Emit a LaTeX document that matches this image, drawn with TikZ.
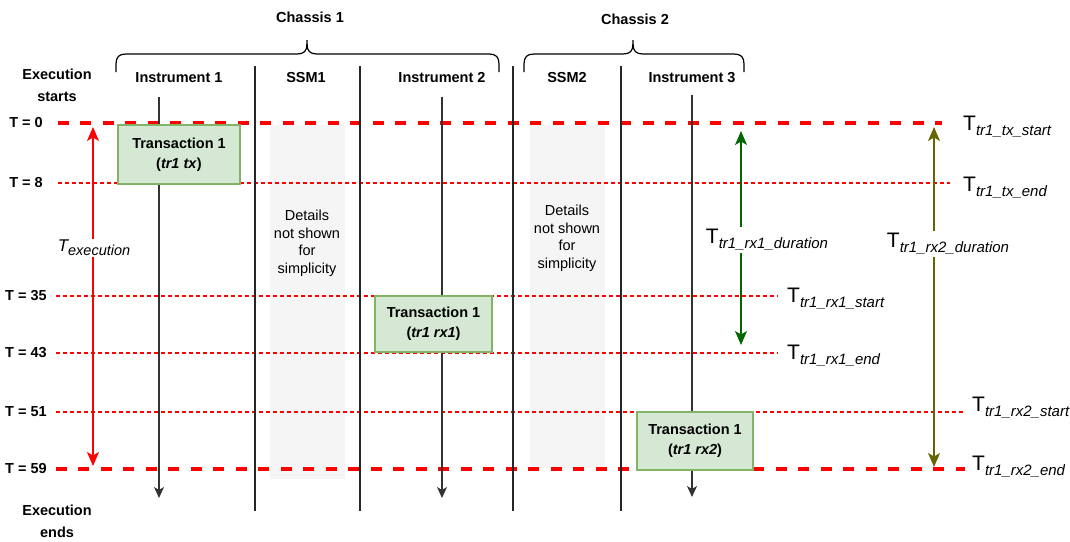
\documentclass[tikz,border=0pt]{standalone}
\usepackage{fontspec}
\setmainfont{Liberation Sans}
\usetikzlibrary{arrows.meta}
\definecolor{txfill}{HTML}{D5E8D4}
\definecolor{txline}{HTML}{82B366}
\definecolor{detailgray}{HTML}{F5F5F5}
\definecolor{durgreen}{HTML}{006600}
\definecolor{durolive}{HTML}{666600}
\definecolor{lifegray}{HTML}{333333}

% time label: upright T with italic subscript
\newcommand{\tname}[1]{{\fontsize{21}{21}\selectfont T}\raisebox{-5pt}{\fontsize{15}{15}\selectfont\itshape #1}}

\begin{document}
\begin{tikzpicture}[x=1pt, y=-1pt,
  hdr/.style={font=\bfseries\fontsize{14.5}{22}\selectfont, align=center, inner sep=0pt},
  tick/.style={font=\bfseries\fontsize{14.5}{17}\selectfont, inner sep=0pt},
  txbox/.style={draw=txline, line width=1.2pt, fill=txfill, align=center,
                inner sep=0pt, font=\bfseries\fontsize{14.5}{20}\selectfont},
  detail/.style={fill=detailgray, draw=none, inner sep=0pt},
  detailtxt/.style={font=\fontsize{14.5}{17.5}\selectfont, align=center, inner sep=0pt},
  brace/.style={line width=1.2pt, black},
  sep/.style={line width=1.3pt, black!85},
  life/.style={line width=1.3pt, lifegray, -{Stealth[length=11pt, width=10pt, inset=3pt]}},
  bigline/.style={line width=3.5pt, red, dash pattern=on 11pt off 11.5pt},
  smallline/.style={line width=1.2pt, red, dash pattern=on 4pt off 3pt},
  span/.style={line width=1.2pt, {Stealth[length=14pt, width=12pt, inset=3.5pt]}-{Stealth[length=14pt, width=12pt, inset=3.5pt]}},
  tright/.style={anchor=base west, inner sep=0pt},
]
\useasboundingbox (0,0) rectangle (1070,541);

% Chassis braces
\node[hdr] (ch1) at (310,17) {Chassis 1};
\node[hdr] (ch2) at (635,19) {Chassis 2};
\draw[brace] (116,72) -- (116,64) .. controls (116,57) and (119,54) .. (126,54) -- (297,54)
  .. controls (304,54) and (307,51) .. (307,44) -- (307,40);
\draw[brace] (307,44) .. controls (307,51) and (310,54) .. (317,54) -- (489,54)
  .. controls (496,54) and (499,57) .. (499,64) -- (499,72);
\draw[brace] (524,72) -- (524,64) .. controls (524,57) and (527,54) .. (534,54) -- (623,54)
  .. controls (630,54) and (633,51) .. (633,44) -- (633,40);
\draw[brace] (633,44) .. controls (633,51) and (636,54) .. (643,54) -- (734,54)
  .. controls (741,54) and (744,57) .. (744,64) -- (744,72);

% Column headers
\node[hdr] (start) at (57,85) {Execution\\starts};
\node[hdr] (in1) at (179,78) {Instrument 1};
\node[hdr] (ssm1) at (306,78) {SSM1};
\node[hdr] (in2) at (442,78) {Instrument 2};
\node[hdr] (ssm2) at (567,78) {SSM2};
\node[hdr] (in3) at (692,78) {Instrument 3};
\node[hdr] (finish) at (57,521) {Execution\\ends};

% SSM placeholders
\node[detail, anchor=north west, minimum width=75, minimum height=354] (ssm1box) at (270,125) {};
\node[detail, anchor=north west, minimum width=75, minimum height=343] (ssm2box) at (530,125) {};
\node[detailtxt] (ssm1txt) at (307,243) {Details\\not shown\\for\\simplicity};
\node[detailtxt] (ssm2txt) at (567,238) {Details\\not shown\\for\\simplicity};

% Time marks
\node[tick] (t0) at (26,123) {T = 0};
\node[tick] (t8) at (26,183) {T = 8};
\node[tick] (t35) at (26,296) {T = 35};
\node[tick] (t43) at (26,353) {T = 43};
\node[tick] (t51) at (26,412) {T = 51};
\node[tick] (t59) at (26,469) {T = 59};

\coordinate (e0) at (942,123);
\coordinate (e8) at (950,183);
\coordinate (e35) at (777,296);
\coordinate (e43) at (777,353);
\coordinate (e51) at (965,412);
\coordinate (e59) at (965,469);
\draw[bigline] (t0.east) ++(15,0) -- (e0);
\draw[smallline] (t8.east) ++(15,0) -- (e8);
\draw[smallline] (t35.east) ++(9,0) -- (e35);
\draw[smallline] (t43.east) ++(9,0) -- (e43);
\draw[smallline] (t51.east) ++(9,0) -- (e51);
\draw[bigline] (t59.east) ++(9,0) -- (e59);

% Separators between columns
\foreach \xs in {255,360,513,621}
  \draw[sep] (\xs,66) -- (\xs,511);

% Lifelines
\draw[life] (159,97) -- (159,498);
\draw[life] (442,97) -- (442,498);
\draw[life] (692,95) -- (692,497);

% Transactions
\node[txbox, minimum width=122, minimum height=59] (tx) at (179,154.5)
  {Transaction 1\\(\textit{tr1 tx})};
\node[txbox, minimum width=117, minimum height=56] (rx1) at (433.5,324)
  {Transaction 1\\(\textit{tr1 rx1})};
\node[txbox, minimum width=116, minimum height=58] (rx2) at (695,441)
  {Transaction 1\\(\textit{tr1 rx2})};

% Durations
\coordinate (exectop) at (93,127);
\coordinate (execbot) at (93,466);
\draw[span, red] (exectop) -- (execbot);
\node[fill=white, inner sep=1pt] (texec) at (94,248)
  {{\fontsize{17}{17}\selectfont\itshape T}\raisebox{-4pt}{\fontsize{14.5}{14.5}\selectfont\itshape execution}};

\coordinate (rx1top) at (741,131);
\coordinate (rx1bot) at (741,345);
\draw[span, durgreen] (rx1top) -- (rx1bot);
\node[fill=white, inner sep=2pt] (drx1) at (767,240) {\tname{tr1\_rx1\_duration}};

\coordinate (rx2top) at (934,127);
\coordinate (rx2bot) at (934,467);
\draw[span, durolive] (rx2top) -- (rx2bot);
\node[fill=white, inner sep=2pt] (drx2) at (948,244) {\tname{tr1\_rx2\_duration}};

% Event names
\node[tright] (txstart) at (963,130) {\tname{tr1\_tx\_start}};
\node[tright] (txend) at (963,191) {\tname{tr1\_tx\_end}};
\node[tright] (rx1start) at (787,302) {\tname{tr1\_rx1\_start}};
\node[tright] (rx1end) at (787,359) {\tname{tr1\_rx1\_end}};
\node[tright] (rx2start) at (972,411) {\tname{tr1\_rx2\_start}};
\node[tright] (rx2end) at (972,470) {\tname{tr1\_rx2\_end}};

\end{tikzpicture}
\end{document}
